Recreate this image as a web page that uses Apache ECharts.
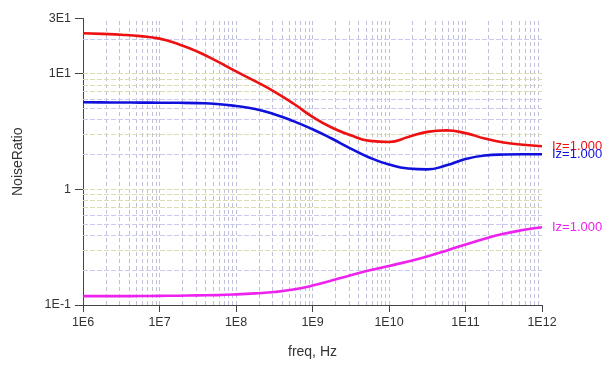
<!DOCTYPE html>
<html>
<head>
<meta charset="utf-8">
<script src="https://cdn.jsdelivr.net/npm/echarts@6/dist/echarts.min.js"></script>
<style>
html,body{margin:0;padding:0;background:#fff;}
#chart{width:607px;height:365px;}
</style>
</head>
<body>
<div id="chart"></div>
<script>
// ---- data ----
const freqs = [
  1e6, 1.778e6, 3.162e6, 5.623e6,
  1e7, 1.778e7, 3.162e7, 5.623e7,
  1e8, 1.778e8, 3.162e8, 5.623e8,
  1e9, 1.778e9, 3.162e9, 5.623e9,
  1e10, 1.778e10, 3.162e10, 5.623e10,
  1e11, 1.778e11, 3.162e11, 5.623e11,
  1e12
];
const redVals = [22.36, 22.08, 21.73, 21.13, 20.09, 17.99, 15.49, 12.82, 10.47, 8.61, 7.00, 5.52, 4.236, 3.428, 2.931, 2.624, 2.570, 2.831, 3.141, 3.236, 3.062, 2.754, 2.541, 2.427, 2.360];
const blueVals = [5.657, 5.645, 5.634, 5.623, 5.612, 5.600, 5.563, 5.474, 5.255, 4.951, 4.463, 3.887, 3.308, 2.751, 2.253, 1.874, 1.639, 1.514, 1.489, 1.614, 1.828, 1.959, 2.000, 2.009, 2.009];
const magVals = [0.1194, 0.1194, 0.1194, 0.1195, 0.1199, 0.1203, 0.1211, 0.1218, 0.1235, 0.1260, 0.1294, 0.1361, 0.1472, 0.1629, 0.1811, 0.1995, 0.2178, 0.2377, 0.2630, 0.2951, 0.3334, 0.3741, 0.4130, 0.4446, 0.4699];
const seriesLabel = 'Iz=1.000';
const xTickLabels = ['1E6', '1E7', '1E8', '1E9', '1E10', '1E11', '1E12'];
const yTickLabels = ['1E-1', '1', '1E1', '3E1'];

// grid line positions (structure only)
const xDecades = [6, 7, 8, 9, 10, 11];
const yDecades = [-1, 0, 1];
const mult = [1, 2, 3, 4, 5, 6, 7, 8, 9];
const oliveMult = [1, 3, 7, 8, 9];

function fmt(v) {
  const e = Math.floor(Math.log10(v) + 1e-9);
  const m = Math.round(v / Math.pow(10, e));
  if (e === 0 && m === 1) return '1';
  return m + 'E' + e;
}

const vLines = [];
xDecades.forEach(d => mult.forEach(m => {
  const v = m * Math.pow(10, d);
  if (v > 1e6) vLines.push({xAxis: v, lineStyle: {color: '#c0c0d8', type: [4, 3], width: 1}});
}));
const hLines = [];
yDecades.forEach(d => mult.forEach(m => {
  const v = m * Math.pow(10, d);
  if (v > 0.1 && v < 30) {
    const olive = oliveMult.indexOf(m) >= 0;
    hLines.push({yAxis: v, lineStyle: {color: olive ? '#dcdcb4' : '#cacaf0', type: [5, 2], width: 1}});
  }
}));
hLines.push({yAxis: 20, lineStyle: {color: '#cacaf0', type: [5, 2], width: 1}});

function zip(vals) { return freqs.map((f, i) => [f, vals[i]]); }

const lineBase = (name, color, vals) => ({
  name: name, type: 'line', data: zip(vals), showSymbol: false, symbol: 'none',
  smooth: 0.5, z: 3,
  lineStyle: {color: color, width: 2.6},
  itemStyle: {color: color},
  endLabel: {show: true, formatter: seriesLabel, color: color, fontSize: 13,
             fontFamily: 'Liberation Sans, Arial, sans-serif', distance: 10},
  animation: false
});

const chart = echarts.init(document.getElementById('chart'), null, {renderer: 'canvas'});
const red = lineBase('red', '#ee1111', redVals);
const blue = lineBase('blue', '#1010dd', blueVals);
const mag = lineBase('mag', '#ee22ee', magVals);
red.markLine = {silent: true, symbol: 'none', z: 1, animation: false, label: {show: false},
                emphasis: {disabled: true}, data: vLines.concat(hLines)};

chart.setOption({
  backgroundColor: '#ffffff',
  animation: false,
  grid: {left: 83, right: 65, top: 18.5, bottom: 60},
  xAxis: {
    type: 'log', logBase: 10, min: 1e6, max: 1e12, interval: 1,
    name: 'freq, Hz', nameLocation: 'middle', nameGap: 40,
    nameTextStyle: {color: '#333', fontSize: 14, fontFamily: 'Liberation Sans, Arial, sans-serif'},
    axisLine: {show: true, lineStyle: {color: '#444', width: 1}},
    axisTick: {show: true, length: 7, lineStyle: {color: '#444'}},
    axisLabel: {color: '#333', fontSize: 12.5, margin: 11, fontFamily: 'Liberation Sans, Arial, sans-serif',
                formatter: v => { const s = fmt(v); return xTickLabels.indexOf(s) >= 0 ? s : ''; }},
    splitLine: {show: false}, minorTick: {show: false}, minorSplitLine: {show: false}
  },
  yAxis: {
    type: 'log', logBase: 10, min: 0.1, max: 30, interval: 1,
    name: 'NoiseRatio', nameLocation: 'middle', nameGap: 58, nameRotate: 90,
    nameTextStyle: {color: '#333', fontSize: 14, fontFamily: 'Liberation Sans, Arial, sans-serif'},
    axisLine: {show: true, lineStyle: {color: '#444', width: 1}},
    axisTick: {show: true, length: 8, lineStyle: {color: '#444'}},
    axisLabel: {color: '#333', fontSize: 12.5, margin: 12, fontFamily: 'Liberation Sans, Arial, sans-serif',
                showMaxLabel: true,
                formatter: v => { const s = fmt(v); return yTickLabels.indexOf(s) >= 0 ? s : ''; }},
    splitLine: {show: false}
  },
  series: [red, blue, mag]
});
</script>
</body>
</html>
